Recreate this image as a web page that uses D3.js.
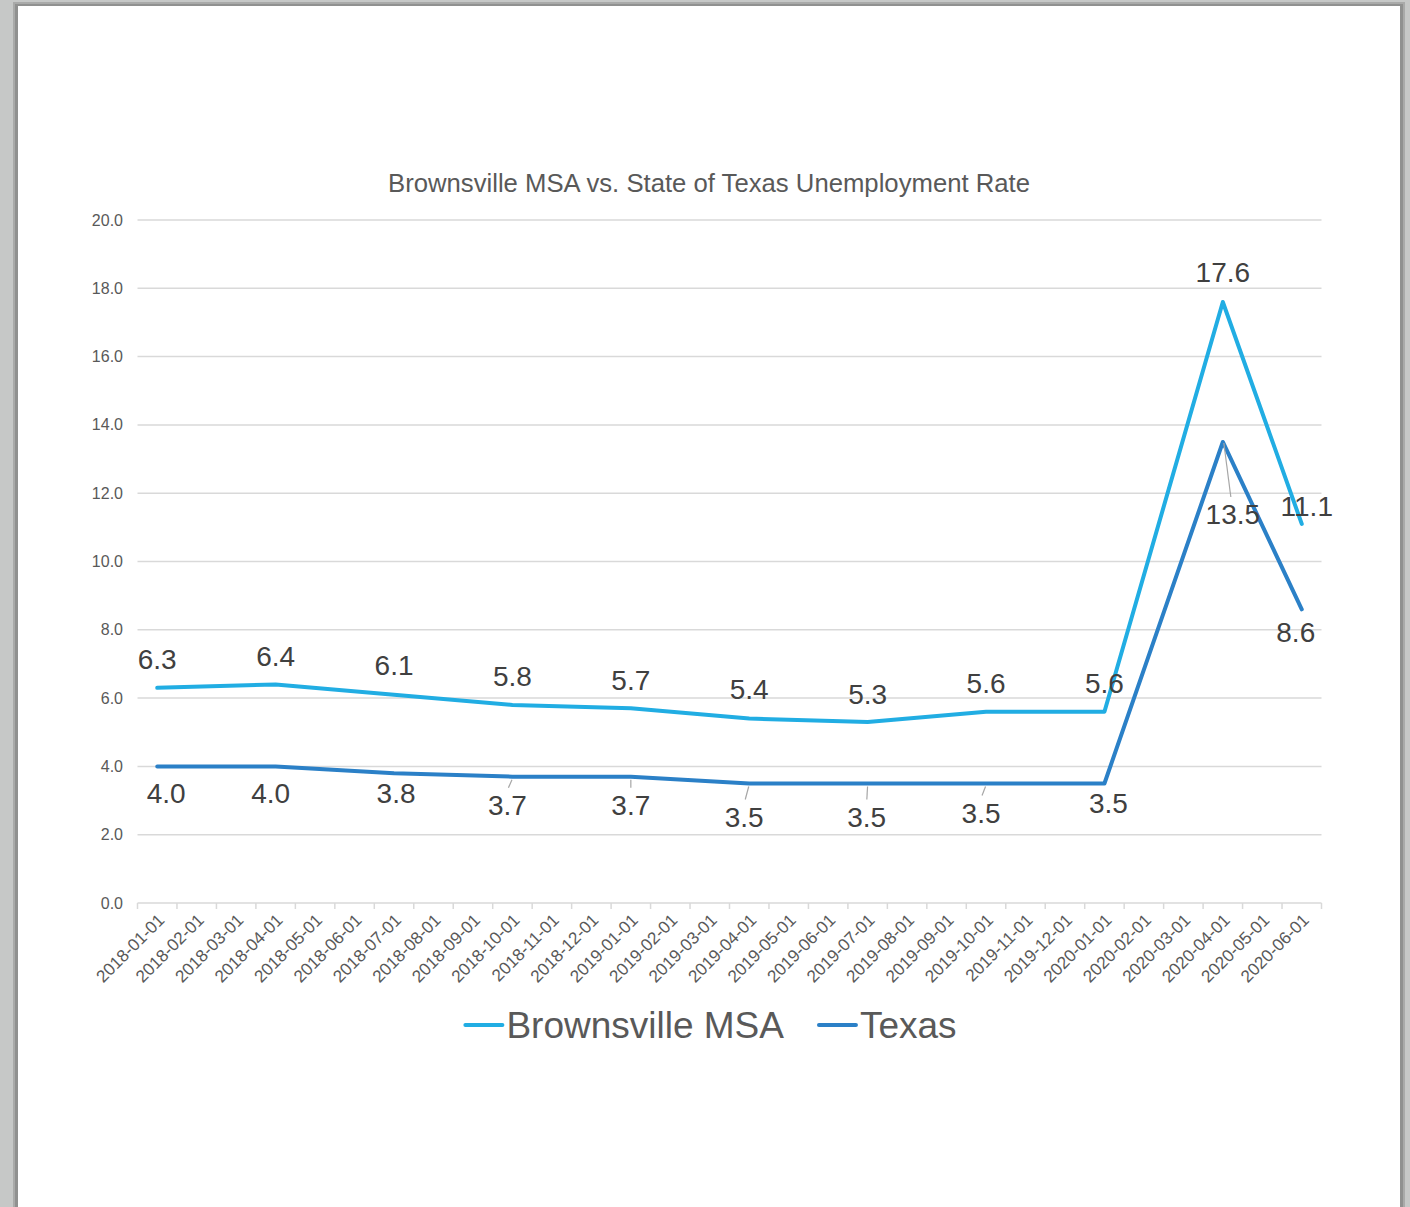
<!DOCTYPE html>
<html>
<head>
<meta charset="utf-8">
<script src="https://cdn.jsdelivr.net/npm/d3@7"></script>
<style>
  html, body { margin: 0; padding: 0; background: #c6c8c7; }
  text { font-family: "Liberation Sans", Arial, sans-serif; }
</style>
</head>
<body>
<svg id="chart" width="1410" height="1207"></svg>
<script>
// Chart data
const months = [
    "2018-01-01", "2018-02-01", "2018-03-01", "2018-04-01", "2018-05-01", "2018-06-01",
    "2018-07-01", "2018-08-01", "2018-09-01", "2018-10-01", "2018-11-01", "2018-12-01",
    "2019-01-01", "2019-02-01", "2019-03-01", "2019-04-01", "2019-05-01", "2019-06-01",
    "2019-07-01", "2019-08-01", "2019-09-01", "2019-10-01", "2019-11-01", "2019-12-01",
    "2020-01-01", "2020-02-01", "2020-03-01", "2020-04-01", "2020-05-01", "2020-06-01"
];
const obsDates = [
    "2018-01-01", "2018-04-01", "2018-07-01", "2018-10-01", "2019-01-01", "2019-04-01",
    "2019-07-01", "2019-10-01", "2020-01-01", "2020-04-01", "2020-06-01"
];
const brownsville = [6.3, 6.4, 6.1, 5.8, 5.7, 5.4, 5.3, 5.6, 5.6, 17.6, 11.1];
const texas = [4.0, 4.0, 3.8, 3.7, 3.7, 3.5, 3.5, 3.5, 3.5, 13.5, 8.6];
const yTicks = [0, 2, 4, 6, 8, 10, 12, 14, 16, 18, 20];
const seriesNames = ["Brownsville MSA", "Texas"];

// label nudges (dx, dy from the point), as placed in the original
const brownsvilleNudge = [[0,-28],[0,-28],[0,-29],[0,-28],[0,-28],[0,-29],[0,-28],[0,-28],[0,-28],[0,-29],[5,-17]];
const texasNudge = [[9,27],[-5,27],[2,20],[-5,29],[0,29],[-5,34],[-1,34],[-5,30],[4,20],[10,73],[-6,23]];

const colors = ["#21ade3", "#2b80c7"];

const svg = d3.select("#chart");

// paper + shadow
svg.append("rect").attr("x", 13).attr("y", 2).attr("width", 1392).attr("height", 1210).attr("fill", "#a9aaa9");
svg.append("rect").attr("x", 15).attr("y", 4).attr("width", 1388).attr("height", 1210).attr("fill", "#909190");
svg.append("rect").attr("x", 18).attr("y", 6).attr("width", 1382).attr("height", 1210).attr("fill", "#fff");

const x = d3.scaleBand().domain(months).range([137.5, 1321.5]);
const y = d3.scaleLinear().domain([0, 20]).range([903, 220]);
const cx = d => x(d) + x.bandwidth() / 2;

// title
svg.append("text")
    .attr("x", 709).attr("y", 183)
    .attr("text-anchor", "middle")
    .attr("dominant-baseline", "central")
    .attr("font-size", 25.7)
    .attr("fill", "#595959")
    .text("Brownsville MSA vs. State of Texas Unemployment Rate");

// gridlines
svg.append("g")
    .selectAll("line")
    .data(yTicks)
    .join("line")
    .attr("x1", 137.5).attr("x2", 1321.5)
    .attr("y1", d => y(d)).attr("y2", d => y(d))
    .attr("stroke", "#d9d9d9")
    .attr("stroke-width", 1.5);

// y labels
svg.append("g")
    .selectAll("text")
    .data(yTicks)
    .join("text")
    .attr("x", 123).attr("y", d => y(d))
    .attr("text-anchor", "end")
    .attr("dominant-baseline", "central")
    .attr("font-size", 16)
    .attr("fill", "#595959")
    .text(d => d.toFixed(1));

// x tick marks at band edges
const edges = months.map(m => x(m)).concat([x.range()[1]]);
svg.append("g")
    .selectAll("line")
    .data(edges)
    .join("line")
    .attr("x1", d => d).attr("x2", d => d)
    .attr("y1", 903).attr("y2", 909)
    .attr("stroke", "#d9d9d9")
    .attr("stroke-width", 1.5);

// x labels
svg.append("g")
    .selectAll("text")
    .data(months)
    .join("text")
    .attr("transform", d => `translate(${cx(d) + 4},${917}) rotate(-45)`)
    .attr("text-anchor", "end")
    .attr("dominant-baseline", "central")
    .attr("font-size", 17.2)
    .attr("fill", "#595959")
    .text(d => d);

// lines
const line = d3.line()
    .x(d => cx(d.date))
    .y(d => y(d.value));

const series = [brownsville, texas].map((vals, i) => ({
    name: seriesNames[i],
    color: colors[i],
    nudge: i === 0 ? brownsvilleNudge : texasNudge,
    points: vals.map((v, j) => ({ date: obsDates[j], value: v }))
}));

svg.append("g")
    .selectAll("path")
    .data(series)
    .join("path")
    .attr("d", d => line(d.points))
    .attr("fill", "none")
    .attr("stroke", d => d.color)
    .attr("stroke-width", 4)
    .attr("stroke-linejoin", "round")
    .attr("stroke-linecap", "round");

// data labels + leader lines
series.forEach(s => {
    const g = svg.append("g");
    s.points.forEach((p, j) => {
        const px = cx(p.date), py = y(p.value);
        const [dx, dy] = s.nudge[j];
        const lx = px + dx, ly = py + dy;
        if (dy > 28) {
            g.append("line")
                .attr("x1", px + dx * 0.1).attr("y1", py + (dy > 50 ? 1 : 3))
                .attr("x2", px + dx * 0.8).attr("y2", ly - 18)
                .attr("stroke", "#a6a6a6")
                .attr("stroke-width", 1.2);
        }
        g.append("text")
            .attr("x", lx).attr("y", ly)
            .attr("text-anchor", "middle")
            .attr("dominant-baseline", "central")
            .attr("font-size", 28)
            .attr("fill", "#404040")
            .text(p.value.toFixed(1));
    });
});

// legend
const legend = svg.append("g");
let lxPos = 0;
series.forEach(s => {
    const g = legend.append("g");
    g.append("line")
        .attr("x1", 0).attr("x2", 37)
        .attr("y1", 0).attr("y2", 0)
        .attr("stroke", s.color)
        .attr("stroke-width", 4)
        .attr("stroke-linecap", "round");
    const t = g.append("text")
        .attr("x", 41).attr("y", 0)
        .attr("dominant-baseline", "central")
        .attr("font-size", 37)
        .attr("fill", "#595959")
        .text(s.name);
    const w = 41 + t.node().getComputedTextLength();
    g.attr("transform", `translate(${lxPos},0)`);
    lxPos += w + 35;
});
const totalW = lxPos - 35;
legend.attr("transform", `translate(${711 - totalW / 2},1025)`);
</script>
</body>
</html>
